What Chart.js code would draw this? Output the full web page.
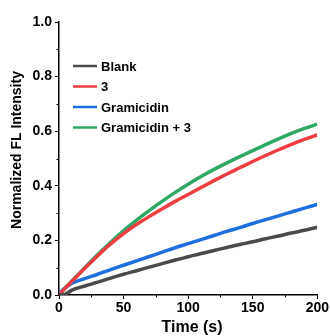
<!DOCTYPE html>
<html>
<head>
<meta charset="utf-8">
<script src="https://cdn.jsdelivr.net/npm/chart.js@4"></script>
<style>
  html, body { margin: 0; padding: 0; background: #fff; }
  #wrap { width: 330px; height: 336px; }
</style>
</head>
<body>
<div id="wrap"><canvas id="flChart"></canvas></div>
<script>
// time points (s)
var time = [0, 5, 10, 20, 30, 40, 50, 60, 70, 80, 90, 100, 110, 120, 130, 140, 150, 160, 170, 180, 190, 200];

// normalized FL intensity for each sample
var blank = [0, 0.003, 0.018, 0.033, 0.047, 0.062, 0.076, 0.089, 0.102, 0.115, 0.128, 0.140, 0.152, 0.163, 0.174, 0.185, 0.195, 0.206, 0.216, 0.227, 0.237, 0.248];
var cmpd3 = [0, 0.026, 0.050, 0.098, 0.144, 0.187, 0.225, 0.258, 0.288, 0.316, 0.343, 0.368, 0.394, 0.419, 0.443, 0.466, 0.489, 0.511, 0.532, 0.552, 0.570, 0.586];
var gramicidin = [0.005, 0.027, 0.043, 0.060, 0.076, 0.093, 0.109, 0.125, 0.141, 0.157, 0.173, 0.188, 0.203, 0.218, 0.233, 0.247, 0.262, 0.276, 0.290, 0.304, 0.318, 0.332];
var gramicidin3 = [0, 0.026, 0.051, 0.100, 0.148, 0.193, 0.236, 0.274, 0.310, 0.344, 0.376, 0.406, 0.434, 0.460, 0.484, 0.507, 0.529, 0.551, 0.572, 0.592, 0.610, 0.626];

var labels = ['Blank', '3', 'Gramicidin', 'Gramicidin + 3'];
var colors = ['#4a4a4a', '#ef3e42', '#1f6fdf', '#2fa866'];
var series = [blank, cmpd3, gramicidin, gramicidin3];

var FONT = '"Liberation Sans", Arial, sans-serif';

function toPoints(ys) {
    return time.map(function (t, i) { return { x: t, y: ys[i] }; });
}

// legend drawn inside the plot area, top-left
var innerLegend = {
    id: 'innerLegend',
    afterDatasetsDraw: function (chart) {
        var ctx = chart.ctx;
        ctx.save();
        ctx.font = 'bold 13px ' + FONT;
        ctx.textBaseline = 'middle';
        chart.data.datasets.forEach(function (ds, i) {
            var y = 66 + i * 20.5;
            ctx.strokeStyle = ds.borderColor;
            ctx.lineWidth = 2.5;
            ctx.beginPath();
            ctx.moveTo(73, y);
            ctx.lineTo(97, y);
            ctx.stroke();
            ctx.fillStyle = '#000';
            ctx.fillText(ds.label, 101, y + 1);
        });
        ctx.restore();
    }
};

// axis titles, placed by hand
var axisTitles = {
    id: 'axisTitles',
    afterDraw: function (chart) {
        var ctx = chart.ctx;
        ctx.save();
        ctx.fillStyle = '#000';
        ctx.textAlign = 'center';
        ctx.textBaseline = 'alphabetic';
        ctx.font = 'bold 16px ' + FONT;
        ctx.fillText('Time (s)', 192, 332);
        ctx.translate(21, 150);
        ctx.rotate(-Math.PI / 2);
        ctx.font = 'bold 14px ' + FONT;
        ctx.fillText('Normalized FL Intensity', 0, 0);
        ctx.restore();
    }
};

// short minor ticks between the labelled ones
var minorTicks = {
    id: 'minorTicks',
    afterDraw: function (chart) {
        var ctx = chart.ctx;
        var xs = chart.scales.x, ys = chart.scales.y;
        ctx.save();
        ctx.strokeStyle = '#000';
        ctx.lineWidth = 1;
        [25, 75, 125, 175].forEach(function (v) {
            var px = Math.round(xs.getPixelForValue(v)) + 0.5;
            ctx.beginPath();
            ctx.moveTo(px, ys.bottom);
            ctx.lineTo(px, ys.bottom + 2.5);
            ctx.stroke();
        });
        [0.1, 0.3, 0.5, 0.7, 0.9].forEach(function (v) {
            var py = Math.round(ys.getPixelForValue(v)) + 0.5;
            ctx.beginPath();
            ctx.moveTo(xs.left, py);
            ctx.lineTo(xs.left - 2.5, py);
            ctx.stroke();
        });
        ctx.restore();
    }
};

var datasets = series.map(function (ys, i) {
    return {
        label: labels[i],
        data: toPoints(ys),
        borderColor: colors[i],
        backgroundColor: colors[i],
        borderWidth: 3.5,
        pointRadius: 0,
        cubicInterpolationMode: 'monotone',
        fill: false
    };
});

var ctx = document.getElementById('flChart');
new Chart(ctx, {
    type: 'line',
    data: { datasets: datasets },
    options: {
        responsive: true,
        maintainAspectRatio: false,
        animation: false,
        layout: { padding: { left: 0, top: 22, right: 12, bottom: 0 } },
        plugins: {
            legend: { display: false },
            tooltip: { enabled: false }
        },
        scales: {
            x: {
                type: 'linear',
                min: 0,
                max: 200,
                afterFit: function (scale) { scale.height = 41; },
                border: { display: true, color: '#000', width: 1.5 },
                grid: { drawOnChartArea: false, color: '#000', tickLength: 4, tickWidth: 1 },
                ticks: {
                    stepSize: 50,
                    padding: 1,
                    color: '#000',
                    font: { family: FONT, size: 14, weight: 'bold' }
                }
            },
            y: {
                min: 0,
                max: 1.0,
                afterFit: function (scale) { scale.width = 59; },
                border: { display: true, color: '#000', width: 1.5 },
                grid: { drawOnChartArea: false, color: '#000', tickLength: 4, tickWidth: 1 },
                ticks: {
                    stepSize: 0.2,
                    padding: 3,
                    color: '#000',
                    font: { family: FONT, size: 14, weight: 'bold' },
                    callback: function (v) { return v.toFixed(1); }
                }
            }
        }
    },
    plugins: [innerLegend, axisTitles, minorTicks]
});
</script>
</body>
</html>
